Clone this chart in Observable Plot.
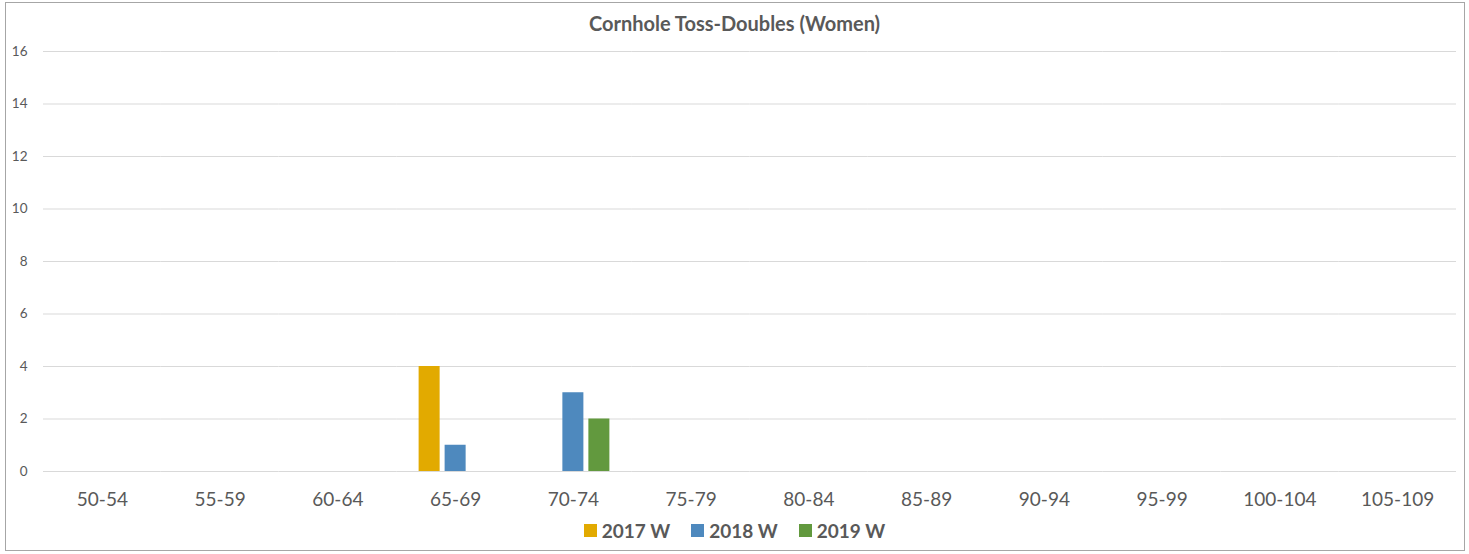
<!DOCTYPE html>
<html>
<head>
<meta charset="utf-8">
<script src="https://cdn.jsdelivr.net/npm/d3@7"></script>
<script src="https://cdn.jsdelivr.net/npm/@observablehq/plot@0.6"></script>
<style>
  html, body { margin: 0; padding: 0; background: #fff; }
  #frame { position: relative; width: 1469px; height: 554px; overflow: hidden; font-family: Lato, "Open Sans", sans-serif; }
  #border { position: absolute; left: 5px; top: 2px; width: 1460px; height: 549px; border: 1px solid #a6a6a6; box-sizing: border-box; }
  #title { position: absolute; left: 0; width: 1469px; top: 11px; text-align: center; font-weight: bold; font-size: 20px; color: #595959; }
  #chart { position: absolute; left: 0; top: 0; }
  #legend { position: absolute; left: 0; width: 1469px; top: 519px; display: flex; justify-content: center; gap: 21px; font-weight: bold; font-size: 19px; color: #595959; }
  .item { display: flex; align-items: center; gap: 5px; }
  .sw { width: 13px; height: 13px; display: inline-block; }
</style>
</head>
<body>
<div id="frame">
  <div id="border"></div>
  <div id="chart"></div>
  <div id="title">Cornhole Toss-Doubles (Women)</div>
  <div id="legend"></div>
</div>
<script>
const categories = ["50-54","55-59","60-64","65-69","70-74","75-79","80-84","85-89","90-94","95-99","100-104","105-109"];
const seriesNames = ["2017 W","2018 W","2019 W"];
const seriesColors = ["#E2AA00","#4E89BE","#62993E"];
const values2017 = [0,0,0,4,0,0,0,0,0,0,0,0];
const values2018 = [0,0,0,1,3,0,0,0,0,0,0,0];
const values2019 = [0,0,0,0,2,0,0,0,0,0,0,0];
const yTicks = [0,2,4,6,8,10,12,14,16];

const allValues = [values2017, values2018, values2019];
const data = [];
categories.forEach((c, i) => {
  seriesNames.forEach((s, j) => {
    data.push({category: c, series: s, value: allValues[j][i]});
  });
});

const chart = Plot.plot({
  width: 1469,
  height: 520,
  marginLeft: 43,
  marginRight: 13,
  marginTop: 51,
  marginBottom: 49,
  style: {fontFamily: "Lato, 'Open Sans', sans-serif", background: "transparent"},
  fx: {domain: categories, padding: 0, round: false, label: null, axis: null},
  x: {domain: seriesNames, paddingInner: 0.192, paddingOuter: 0.86, round: false, axis: null},
  y: {domain: [0, 16], label: null, axis: null},
  color: {domain: seriesNames, range: seriesColors},
  marks: [
    Plot.ruleY(yTicks, {stroke: "#d9d9d9", strokeWidth: 1}),
    Plot.axisY({ticks: yTicks, anchor: "left", tickSize: 0, tickPadding: 16, label: null, fontSize: 13.5, fill: "#595959"}),
    Plot.barY(data, {fx: "category", x: "series", y: "value", fill: "series"}),
    Plot.axisFx({anchor: "bottom", tickSize: 0, tickPadding: 21, label: null, fontSize: 19, fill: "#595959"})
  ]
});
document.getElementById("chart").appendChild(chart);

const legend = document.getElementById("legend");
seriesNames.forEach((s, j) => {
  const item = document.createElement("div");
  item.className = "item";
  const sw = document.createElement("span");
  sw.className = "sw";
  sw.style.background = seriesColors[j];
  const t = document.createElement("span");
  t.textContent = s;
  item.appendChild(sw);
  item.appendChild(t);
  legend.appendChild(item);
});
</script>
</body>
</html>
